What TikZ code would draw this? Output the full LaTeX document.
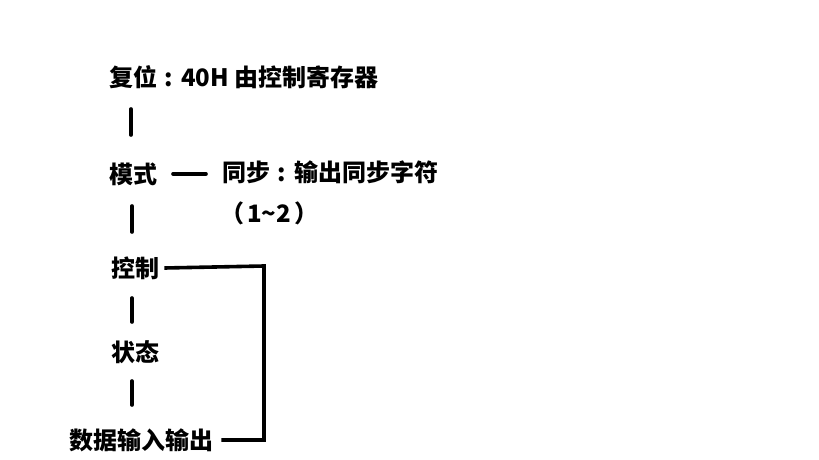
\documentclass[tikz,border=0pt]{standalone}
\usepackage{fontspec}
\newfontfamily\cjk{Noto Sans CJK SC}
\newcommand{\ccolon}{\makebox[1em][c]{:}}
\begin{document}
\begin{tikzpicture}[x=1pt,y=-1pt,
  lbl/.style={font=\cjk\bfseries\fontsize{24}{26}\selectfont, inner sep=0pt, anchor=west},
  conn/.style={line width=3.6pt, line cap=round}]
\useasboundingbox[fill=white] (0,0) rectangle (819,460);
\node[lbl] (reset) at (109,77) {复位\ccolon 40H 由控制寄存器};
\node[lbl] (mode) at (109,174) {模式};
\node[lbl] (sync) at (222,172) {同步\ccolon 输出同步字符};
\node[lbl] (num) at (220,213) {（\hspace{3pt}1\textasciitilde 2\hspace{3pt}）};
\node[lbl] (ctrl) at (111,268) {控制};
\node[lbl] (stat) at (111,352) {状态};
\node[lbl] (data) at (69,440) {数据输入输出};
\coordinate (v1a) at (131,109); \coordinate (v1b) at (131,135);
\coordinate (v2a) at (132,206); \coordinate (v2b) at (132,232);
\coordinate (v3a) at (132,298); \coordinate (v3b) at (132,322);
\coordinate (v4a) at (132,381); \coordinate (v4b) at (132,405);
\coordinate (h1a) at (173,174); \coordinate (h1b) at (206,174);
\draw[conn] (v1a) -- (v1b);
\draw[conn] (v2a) -- (v2b);
\draw[conn] (v3a) -- (v3b);
\draw[conn] (v4a) -- (v4b);
\draw[conn] (h1a) -- (h1b);
\draw[line width=3.6pt, line join=miter] ([xshift=5pt]ctrl.east) -- (264,266) -- (264,440) -- ([xshift=8pt]data.east);
\end{tikzpicture}
\end{document}
